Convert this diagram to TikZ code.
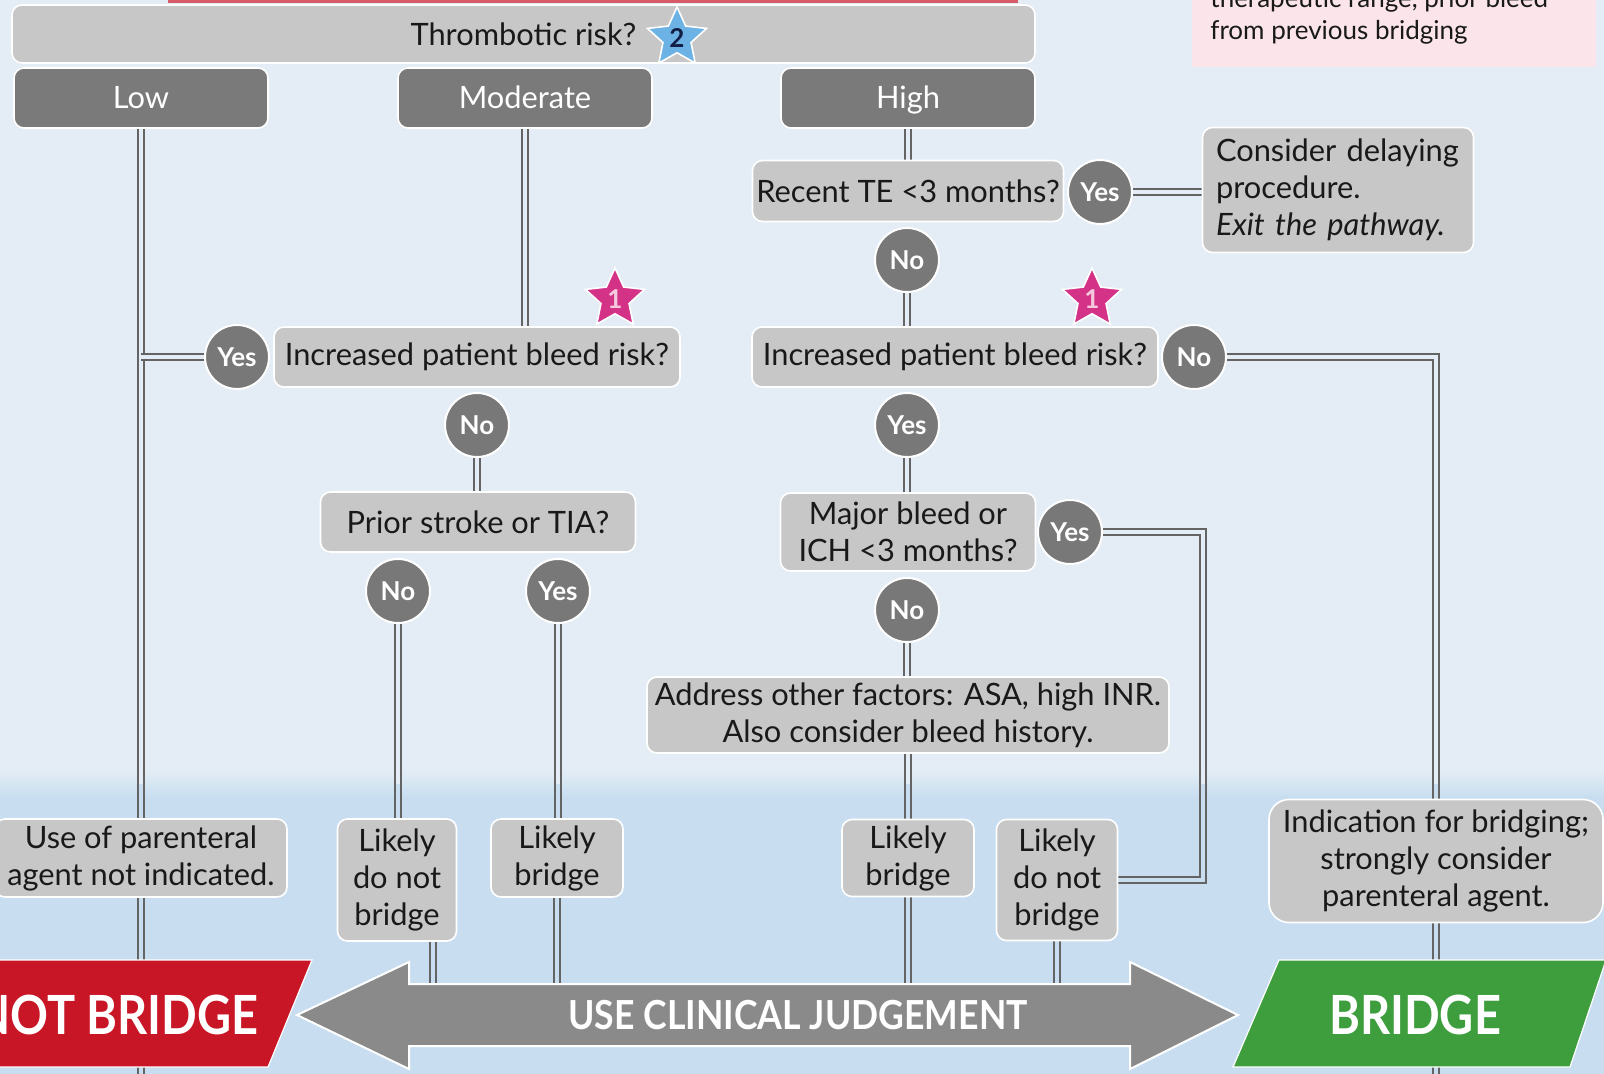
\documentclass[tikz,border=0pt]{standalone}
\usepackage{fontspec}
\setmainfont{Lato}
\usepackage{graphicx}
\usetikzlibrary{shapes.geometric}
\definecolor{topbg}{RGB}{228,237,245}
\definecolor{botbg}{RGB}{200,222,240}
\definecolor{boxg}{RGB}{199,199,199}
\definecolor{darkg}{RGB}{122,122,122}
\definecolor{circg}{RGB}{120,120,120}
\definecolor{lineg}{RGB}{100,100,100}
\definecolor{txt}{RGB}{25,25,25}
\definecolor{arrg}{RGB}{138,138,138}
\definecolor{nbred}{RGB}{200,22,38}
\definecolor{bgreen}{RGB}{62,158,62}
\definecolor{sblue}{RGB}{108,178,228}
\definecolor{spink}{RGB}{212,50,135}
\definecolor{lpink}{RGB}{245,200,222}
\definecolor{pinkbox}{RGB}{251,229,234}
\definecolor{navy}{RGB}{20,30,70}
\pgfdeclarelayer{bglayer}
\pgfdeclarelayer{linelayer}
\pgfsetlayers{bglayer,linelayer,main}
\begin{document}
\begin{tikzpicture}[x=0.5pt,y=-0.5pt,
  box/.style={rectangle, rounded corners=5pt, fill=boxg, draw=white, line width=0.8pt, text=txt, font=\fontsize{15.4}{18.5}\selectfont, align=center, inner sep=0pt},
  dbox/.style={box, fill=darkg, text=white, minimum width=127pt, minimum height=30pt, text height=11pt, text depth=0pt},
  circ/.style={circle, fill=circg, draw=white, line width=1pt, minimum size=32pt, inner sep=0pt, text=white, font=\bfseries\fontsize{13}{13}\selectfont},
  dbl/.style={draw=lineg, line width=1pt, double=topbg, double distance=1.6pt},
  starn/.style={star, star points=5, star point ratio=2.1, minimum size=31pt, inner sep=0pt, draw=white, line width=0.8pt, font=\bfseries\fontsize{13}{13}\selectfont},
  bigtxt/.style={text=white, inner sep=0pt, font=\bfseries\fontsize{27}{27}\selectfont}
]
\useasboundingbox (0,0) rectangle (1604,1074);
\begin{pgfonlayer}{bglayer}
\fill[topbg] (0,0) rectangle (1604,771);
\shade[top color=topbg,bottom color=botbg] (0,770) rectangle (1604,797);
\fill[botbg] (0,796) rectangle (1604,1074);
\fill[nbred!70!white] (168,-10) rectangle (1018,3);
\fill[pinkbox] (1192,-10) rectangle (1596,67);
\end{pgfonlayer}

\node[anchor=west, text=txt, font=\fontsize{13}{16}\selectfont, align=left, inner sep=0pt] (pinktxt) at (1210,16) {therapeutic range, prior bleed\\from previous bridging};

\node[box, minimum width=511.5pt, minimum height=29pt] (thromb) at (523.5,34) {Thrombotic risk?};
\node[starn, fill=sblue, text=navy] (star2) at (677,38) {2};
\node[dbox] (low) at (141,98) {Low};
\node[dbox] (mod) at (525,98) {Moderate};
\node[dbox] (high) at (908,98) {High};
\node[box, minimum width=155.5pt, minimum height=30.5pt] (recent) at (908,191) {Recent TE <3 months?};
\node[circ] (yesTE) at (1100,192) {Yes};
\node[box, align=left, text width=122pt, inner xsep=6.75pt, minimum height=62.5pt] (consider) at (1338,190) {Consider delaying\\procedure.\\\textit{Exit the pathway.}};
\node[circ] (noTE) at (907,260) {No};
\node[box, minimum width=203pt, minimum height=30pt] (bleedL) at (477,357) {Increased patient bleed risk?};
\node[circ] (yesL) at (237,357) {Yes};
\node[starn, fill=spink, text=lpink] (star1L) at (615,299) {1};
\node[circ] (noL) at (477,425) {No};
\node[box, minimum width=157.5pt, minimum height=30pt] (prior) at (478,522) {Prior stroke or TIA?};
\node[circ] (noP) at (398,591) {No};
\node[circ] (yesP) at (558,591) {Yes};
\node[box, minimum width=203pt, minimum height=30pt] (bleedR) at (955,357) {Increased patient bleed risk?};
\node[starn, fill=spink, text=lpink] (star1R) at (1092,299) {1};
\node[circ] (noR) at (1194,357) {No};
\node[circ] (yesR) at (907,425) {Yes};
\node[box, minimum width=127.5pt, minimum height=39pt] (major) at (908,532) {Major bleed or\\ICH <3 months?};
\node[circ] (yesM) at (1070,532) {Yes};
\node[circ] (noM) at (907,610) {No};
\node[box, minimum width=261pt, minimum height=38pt] (address) at (908,715) {Address other factors: ASA, high INR.\\Also consider bleed history.};
\node[box, minimum width=146pt, minimum height=39pt] (useof) at (141,858) {Use of parenteral\\agent not indicated.};
\node[box, minimum width=59.5pt, minimum height=61pt] (lnb1) at (397,880) {Likely\\do not\\bridge};
\node[box, minimum width=66pt, minimum height=39pt] (lb1) at (557,858) {Likely\\bridge};
\node[box, minimum width=66pt, minimum height=38.5pt] (lb2) at (908,858) {Likely\\bridge};
\node[box, minimum width=60.5pt, minimum height=60.5pt] (lnb2) at (1057,880) {Likely\\do not\\bridge};
\node[box, rounded corners=10pt, minimum width=167pt, minimum height=61.5pt] (indic) at (1436,861) {Indication for bridging;\\strongly consider\\parenteral agent.};

\coordinate (arrtop) at (0,984);
\coordinate (pbot) at (0,1080);

\newcommand\allconns{%
\draw[dbl] (low.south) -- (useof.north);
\draw[dbl] (useof.south) -- (useof.south |- pbot);
\draw[dbl] (yesL.west) -- (yesL.west -| low.south);
\draw[dbl] (mod.south) -- (mod.south |- bleedL.north);
\draw[dbl] (noL.south) -- (noL.south |- prior.north);
\draw[dbl] (noP.south) -- (noP.south |- lnb1.north);
\draw[dbl] ([xshift=18pt]lnb1.south) -- ([xshift=18pt]lnb1.south |- arrtop);
\draw[dbl] (yesP.south) -- (yesP.south |- lb1.north);
\draw[dbl] (lb1.south) -- (lb1.south |- arrtop);
\draw[dbl] (high.south) -- (high.south |- recent.north);
\draw[dbl] (noTE.south) -- (noTE.south |- bleedR.north);
\draw[dbl] (yesTE.east) -- (yesTE.east -| consider.west);
\draw[dbl] (noR.east) -| (indic.north);
\draw[dbl] (indic.south) -- (indic.south |- pbot);
\draw[dbl] (yesR.south) -- (yesR.south |- major.north);
\draw[dbl] (yesM.east) -- ++(100,0) |- (lnb2.east);
\draw[dbl] (noM.south) -- (noM.south |- address.north);
\draw[dbl] (address.south) -- (address.south |- lb2.north);
\draw[dbl] (lb2.south) -- (lb2.south |- arrtop);
\draw[dbl] (lnb2.south) -- (lnb2.south |- arrtop);
}
\begin{pgfonlayer}{linelayer}
\allconns
\begin{scope}
\clip (0,784) rectangle (1604,1074);
\tikzset{dbl/.append style={double=botbg}}
\allconns
\end{scope}
\end{pgfonlayer}

\path[fill=arrg, draw=white, line width=1pt] (297,1015) -- (409,962) -- (409,984) -- (1130,984) -- (1130,962) -- (1238,1015) -- (1130,1069) -- (1130,1046) -- (409,1046) -- (409,1069) -- cycle;
\node[text=white, inner sep=0pt, font=\bfseries\fontsize{20}{20}\selectfont] (judg) at (798,1015) {\scalebox{0.89}[1]{USE CLINICAL JUDGEMENT}};
\path[fill=nbred, draw=white, line width=0.6pt] (-10,960) -- (312,960) -- (268,1067) -- (-10,1067) -- cycle;
\node[bigtxt, anchor=east] (notb) at (259,1015) {\scalebox{0.87}[1]{NOT BRIDGE}};
\path[fill=bgreen, draw=white, line width=0.6pt] (1279,960) -- (1606,960) -- (1570,1067) -- (1233,1067) -- cycle;
\node[bigtxt] (brg) at (1415,1015) {\scalebox{0.87}[1]{BRIDGE}};
\end{tikzpicture}
\end{document}
